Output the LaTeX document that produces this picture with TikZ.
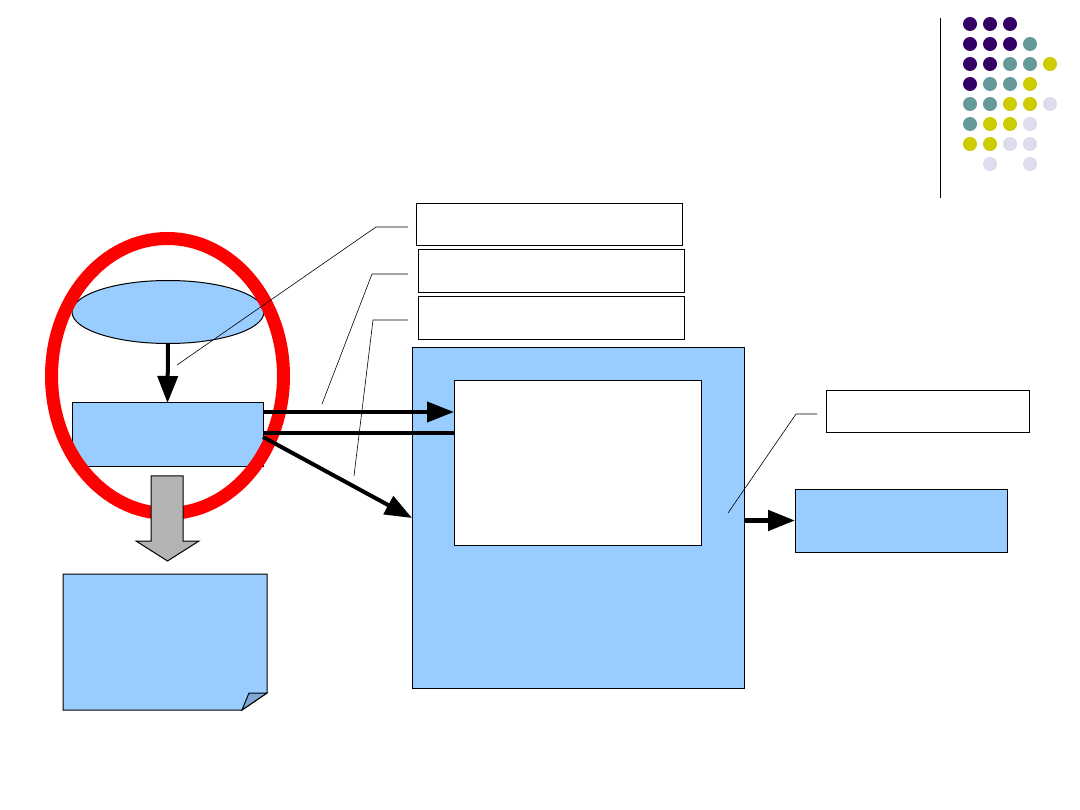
\documentclass[tikz,border=0pt]{standalone}
\usepackage{xcolor}
\usepackage{tikz}
\usetikzlibrary{arrows.meta,shapes.geometric}
\definecolor{celeste}{HTML}{99CCFF}
\definecolor{piega}{HTML}{7EA8D8}
\definecolor{grigio}{HTML}{B3B3B3}
\definecolor{viola}{HTML}{330066}
\definecolor{petrolio}{HTML}{669999}
\definecolor{senape}{HTML}{CCCC00}
\definecolor{lavanda}{HTML}{DDDDEE}

\begin{document}
\begin{tikzpicture}[x=1pt, y=-1pt,
    box/.style={draw, line width=1pt, inner sep=0pt, outer sep=0pt},
    freccia/.style={line width=4pt, -{Triangle[length=27pt,width=20pt]}},
    richiamo/.style={line width=0.6pt}]
        \useasboundingbox (0,0) rectangle (1080,810);

        % Logo: linea verticale e griglia di punti
        \draw[line width=1pt] (940,18) -- (940,198);
        \foreach \riga/\lista in {1/{viola,viola,viola},
                2/{viola,viola,viola,petrolio},
                3/{viola,viola,petrolio,petrolio,senape},
                4/{viola,petrolio,petrolio,senape},
                5/{petrolio,petrolio,senape,senape,lavanda},
                6/{petrolio,senape,senape,lavanda},
                7/{senape,senape,lavanda,lavanda},
                8/{none,lavanda,none,lavanda}}
            \foreach \col [count=\i] in \lista
                \fill[fill=\col] (950+20*\i, 4+20*\riga) circle (7);

        % Etichette (vuote)
        \node[box, minimum width=266, minimum height=42] (lab1) at (549,225) {};
        \node[box, minimum width=266, minimum height=43] (lab2) at (551,271.5) {};
        \node[box, minimum width=266, minimum height=43] (lab3) at (551,318.5) {};
        \node[box, minimum width=203, minimum height=42] (lab4) at (927.5,412) {};

        % Sorgente e ingresso
        \node[box, ellipse, fill=celeste, minimum width=192, minimum height=63] (src) at (168,312) {};
        \node[box, fill=celeste, minimum width=191, minimum height=64] (inp) at (167.5,435) {};

        % Blocco principale con riquadro interno
        \node[box, fill=celeste, minimum width=332, minimum height=340] (main) at (578,518) {};
        \node[box, fill=white, minimum width=247, minimum height=164] (inner) at (577.5,463) {};

        % Uscita
        \node[box, fill=celeste, minimum width=212, minimum height=63] (out) at (901,520.5) {};

        % Documento con angolo piegato
        \draw[line width=1pt, fill=celeste]
        (63,574) -- (267,574) -- (267,693) -- (242,710) -- (63,710) -- cycle;
        \draw[line width=1pt, fill=piega]
        (242,710) -- (249,693) -- (267,693) -- cycle;

        % Anello rosso
        \draw[red, line width=13pt] (167.5,376) ellipse [x radius=116, y radius=137.5];

        % Freccia grigia verso il documento
        \draw[line width=1pt, fill=grigio]
        (151,476) -- (183,476) -- (183,541) -- (199,541) -- (167.5,561)
        -- (136,541) -- (151,541) -- cycle;

        % Collegamenti
        \draw[freccia] (src.south) -- (inp.north);
        \draw[freccia] ([yshift=23pt]inp.east) coordinate (a1) -- (a1 -| inner.west);
        \draw[line width=4pt] ([yshift=2pt]inp.east) coordinate (a2) -- (a2 -| inner.west);
        \draw[freccia] ([yshift=-2pt]inp.east) -- (main.west);
        \draw[freccia, line width=5pt] (main.east |- out.west) -- (out.west);

        % Richiami
        \coordinate (p1) at (177,365);
        \coordinate (p2) at (322,404);
        \coordinate (p3) at (354,476);
        \coordinate (p4) at (728,513);
        \draw[richiamo] ([xshift=-8pt,yshift=-2pt]lab1.west) -- ++(-32,0) -- (p1);
        \draw[richiamo] ([xshift=-10pt,yshift=-2.5pt]lab2.west) -- ++(-36,0) -- (p2);
        \draw[richiamo] ([xshift=-10pt,yshift=-1.5pt]lab3.west) -- ++(-35,0) -- (p3);
        \draw[richiamo] ([xshift=-9pt,yshift=-2pt]lab4.west) -- ++(-21,0) -- (p4);
    \end{tikzpicture}
\end{document}
